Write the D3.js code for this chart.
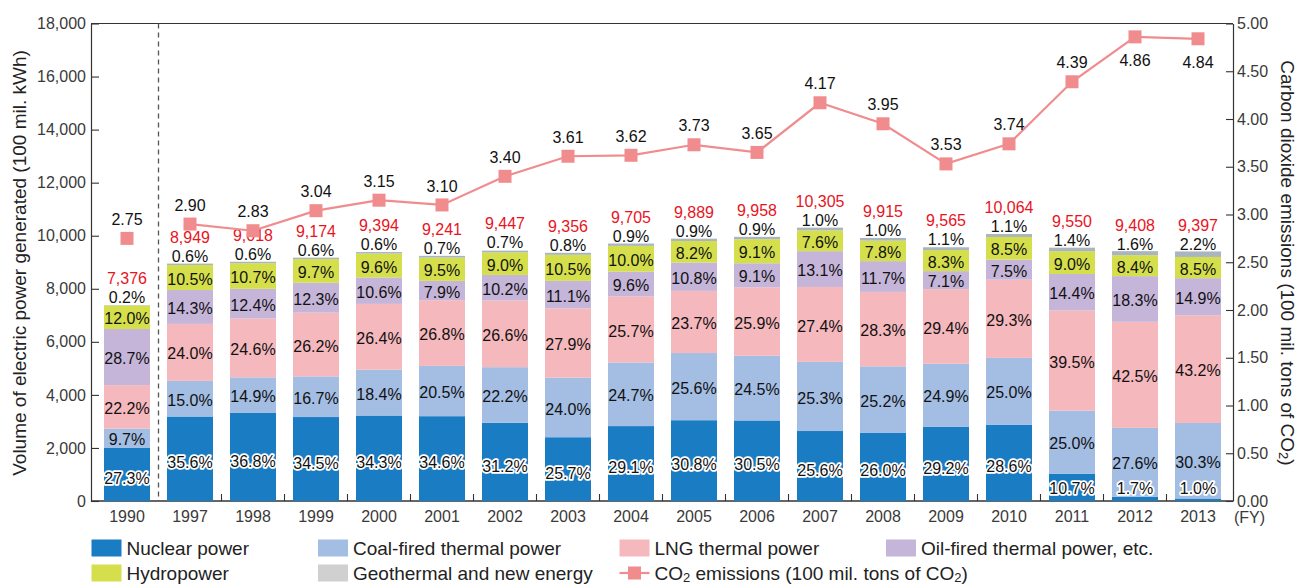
<!DOCTYPE html>
<html>
<head>
<meta charset="utf-8">
<script src="https://cdn.jsdelivr.net/npm/d3@7"></script>
<style>
  html, body { margin: 0; padding: 0; background: #fff; }
  svg { display: block; font-family: "Liberation Sans", Arial, Helvetica, sans-serif; }
</style>
</head>
<body>
<svg id="chart" width="1298" height="585"></svg>
<script>
// Fiscal years shown on the x axis
const years = ["1990", "1997", "1998", "1999", "2000", "2001", "2002", "2003", "2004",
               "2005", "2006", "2007", "2008", "2009", "2010", "2011", "2012", "2013"];

// Total electric power generated (100 mil. kWh)
const totals = [7376, 8949, 9018, 9174, 9394, 9241, 9447, 9356, 9705,
                9889, 9958, 10305, 9915, 9565, 10064, 9550, 9408, 9397];

// Share of each source in the total (%)
const nuclearPct    = [27.3, 35.6, 36.8, 34.5, 34.3, 34.6, 31.2, 25.7, 29.1, 30.8, 30.5, 25.6, 26.0, 29.2, 28.6, 10.7, 1.7, 1.0];
const coalPct       = [9.7, 15.0, 14.9, 16.7, 18.4, 20.5, 22.2, 24.0, 24.7, 25.6, 24.5, 25.3, 25.2, 24.9, 25.0, 25.0, 27.6, 30.3];
const lngPct        = [22.2, 24.0, 24.6, 26.2, 26.4, 26.8, 26.6, 27.9, 25.7, 23.7, 25.9, 27.4, 28.3, 29.4, 29.3, 39.5, 42.5, 43.2];
const oilPct        = [28.7, 14.3, 12.4, 12.3, 10.6, 7.9, 10.2, 11.1, 9.6, 10.8, 9.1, 13.1, 11.7, 7.1, 7.5, 14.4, 18.3, 14.9];
const hydroPct      = [12.0, 10.5, 10.7, 9.7, 9.6, 9.5, 9.0, 10.5, 10.0, 8.2, 9.1, 7.6, 7.8, 8.3, 8.5, 9.0, 8.4, 8.5];
const geothermalPct = [0.2, 0.6, 0.6, 0.6, 0.6, 0.7, 0.7, 0.8, 0.9, 0.9, 0.9, 1.0, 1.0, 1.1, 1.1, 1.4, 1.6, 2.2];

// CO2 emissions (100 mil. tons of CO2)
const co2 = [2.75, 2.90, 2.83, 3.04, 3.15, 3.10, 3.40, 3.61, 3.62,
             3.73, 3.65, 4.17, 3.95, 3.53, 3.74, 4.39, 4.86, 4.84];

// Axis ticks
const leftTicks  = [0, 2000, 4000, 6000, 8000, 10000, 12000, 14000, 16000, 18000];
const rightTicks = [0, 0.5, 1.0, 1.5, 2.0, 2.5, 3.0, 3.5, 4.0, 4.5, 5.0];

// Series names and colours
const sources = [
  { key: "nuclear",    label: "Nuclear power",                 pct: nuclearPct,    color: "#1a7dc4", legendColor: "#1a7dc4" },
  { key: "coal",       label: "Coal-fired thermal power",      pct: coalPct,       color: "#a3bde3", legendColor: "#a3bde3" },
  { key: "lng",        label: "LNG thermal power",             pct: lngPct,        color: "#f5b8bd", legendColor: "#f5b8bd" },
  { key: "oil",        label: "Oil-fired thermal power, etc.", pct: oilPct,        color: "#c5b5d9", legendColor: "#c5b5d9" },
  { key: "hydro",      label: "Hydropower",                    pct: hydroPct,      color: "#d5df4c", legendColor: "#d5df4c" },
  { key: "geothermal", label: "Geothermal and new energy",     pct: geothermalPct, color: "#a9b5c0", legendColor: "#d0d0d0" }
];
const co2Color = "#f08c8e";
const totalColor = "#e8141e";

const svg = d3.select("#chart");
const frame = { left: 91, right: 1233, top: 23.5, bottom: 501 };

const x = d3.scaleBand().domain(years).range([95.5, 1229.5]).padding(0);
const barW = x.bandwidth() * 0.73;
const barOff = (x.bandwidth() - barW) / 2;
const yL = d3.scaleLinear().domain([0, 18000]).range([frame.bottom, frame.top]);
const yR = d3.scaleLinear().domain([0, 5]).range([frame.bottom, frame.top]);

// Per-year generation by source
const rows = years.map((yr, i) => {
  const r = { year: yr, total: totals[i], i };
  sources.forEach(s => { r[s.key] = totals[i] * s.pct[i] / 100; });
  return r;
});
const stacked = d3.stack().keys(sources.map(s => s.key))(rows);

// ---- Frame and axes ----
const axisColor = "#333";
svg.append("line")
  .attr("x1", frame.left).attr("x2", frame.right)
  .attr("y1", frame.top).attr("y2", frame.top)
  .attr("stroke", axisColor).attr("stroke-width", 1.2);
svg.append("line")
  .attr("x1", frame.left).attr("x2", frame.right)
  .attr("y1", frame.bottom).attr("y2", frame.bottom)
  .attr("stroke", axisColor).attr("stroke-width", 1.5);

const leftAxis = svg.append("g")
  .attr("transform", `translate(${frame.left},0)`)
  .call(d3.axisLeft(yL).tickValues(leftTicks).tickSize(-8).tickSizeOuter(0)
        .tickPadding(5).tickFormat(d3.format(",")));
const rightAxis = svg.append("g")
  .attr("transform", `translate(${frame.right},0)`)
  .call(d3.axisRight(yR).tickValues(rightTicks).tickSize(-7).tickSizeOuter(0)
        .tickPadding(4).tickFormat(d3.format(".2f")));
[leftAxis, rightAxis].forEach(g => {
  g.select(".domain").attr("stroke", axisColor).attr("stroke-width", 1.2);
  g.selectAll(".tick line").attr("stroke", axisColor).attr("stroke-width", 1.1);
  g.selectAll(".tick text").attr("fill", "#3a3a3a").attr("font-size", 16)
    .attr("font-family", "Liberation Sans, Arial, sans-serif");
});

const bottomAxis = svg.append("g")
  .attr("transform", `translate(0,${frame.bottom})`)
  .call(d3.axisBottom(x).tickSize(0).tickPadding(10));
bottomAxis.select(".domain").remove();
bottomAxis.selectAll(".tick text").attr("fill", "#3a3a3a").attr("font-size", 16)
  .attr("font-family", "Liberation Sans, Arial, sans-serif");

svg.append("text")
  .attr("x", 1234).attr("y", 517).attr("dy", "0.35em")
  .attr("font-size", 16).attr("fill", "#3a3a3a").text("(FY)");

// Small ticks between bars, and a dashed break between 1990 and 1997
years.slice(1).forEach(yr => {
  const bx = x(yr);
  if (yr === "1997") {
    svg.append("line")
      .attr("x1", bx).attr("x2", bx)
      .attr("y1", frame.top).attr("y2", frame.bottom)
      .attr("stroke", "#555").attr("stroke-width", 1.3)
      .attr("stroke-dasharray", "5,4");
  } else {
    svg.append("line")
      .attr("x1", bx).attr("x2", bx)
      .attr("y1", frame.bottom).attr("y2", frame.bottom - 7)
      .attr("stroke", axisColor).attr("stroke-width", 1.1);
  }
});

// ---- Stacked bars ----
const barsG = svg.append("g");
stacked.forEach((layer, li) => {
  barsG.selectAll(null)
    .data(layer)
    .join("rect")
    .attr("x", d => x(d.data.year) + barOff)
    .attr("y", d => yL(d[1]))
    .attr("width", barW)
    .attr("height", d => yL(d[0]) - yL(d[1]))
    .attr("fill", sources[li].color);
});

// ---- Percentage labels inside the bars ----
const pctFmt = v => v.toFixed(1) + "%";
const labelsG = svg.append("g").attr("font-size", 16).attr("text-anchor", "middle");
stacked.forEach((layer, li) => {
  const s = sources[li];
  if (s.key === "geothermal") return;
  labelsG.selectAll(null)
    .data(layer)
    .join("text")
    .attr("x", d => x(d.data.year) + x.bandwidth() / 2)
    .attr("y", d => {
      const mid = yL((d[0] + d[1]) / 2);
      if (s.key === "nuclear") return Math.min(mid + 4, frame.bottom - 13);
      return mid + 1.5;
    })
    .attr("dy", "0.35em")
    .attr("fill", "#111")
    .attr("stroke", s.key === "nuclear" ? "#fff" : "none")
    .attr("stroke-width", s.key === "nuclear" ? 3.5 : 0)
    .attr("stroke-linejoin", "round")
    .attr("paint-order", "stroke")
    .text(d => pctFmt(s.pct[d.data.i]));
});

// Geothermal share above each bar, and the total in red above that
labelsG.selectAll(null)
  .data(rows)
  .join("text")
  .attr("x", d => x(d.year) + x.bandwidth() / 2)
  .attr("y", d => yL(d.total) - 7.5)
  .attr("dy", "0.35em")
  .attr("fill", "#111")
  .text(d => pctFmt(geothermalPct[d.i]));
labelsG.selectAll(null)
  .data(rows)
  .join("text")
  .attr("x", d => x(d.year) + x.bandwidth() / 2)
  .attr("y", d => yL(d.total) - 26.5)
  .attr("dy", "0.35em")
  .attr("fill", totalColor)
  .text(d => d3.format(",")(d.total));

// ---- CO2 emissions line (right axis) ----
const pts = years.map((yr, i) => ({ year: yr, v: co2[i], i }));
const line = d3.line()
  .defined(d => d.year !== "1990")
  .x(d => x(d.year) + x.bandwidth() / 2)
  .y(d => yR(d.v));
svg.append("path")
  .datum(pts)
  .attr("d", line)
  .attr("fill", "none")
  .attr("stroke", co2Color)
  .attr("stroke-width", 2.2);
const mk = 13;
svg.selectAll(null)
  .data(pts)
  .join("rect")
  .attr("x", d => x(d.year) + x.bandwidth() / 2 - mk / 2)
  .attr("y", d => yR(d.v) - mk / 2)
  .attr("width", mk).attr("height", mk)
  .attr("fill", co2Color);
svg.append("g").attr("font-size", 16).attr("text-anchor", "middle")
  .selectAll(null)
  .data(pts)
  .join("text")
  .attr("x", d => x(d.year) + x.bandwidth() / 2)
  .attr("y", d => {
    const cy = yR(d.v);
    return (cy - 19 < frame.top + 20) ? cy + 24 : cy - 19;
  })
  .attr("dy", "0.35em")
  .attr("fill", "#111")
  .text(d => d.v.toFixed(2));

// ---- Axis titles ----
svg.append("text")
  .attr("transform", "translate(19,263) rotate(-90)")
  .attr("text-anchor", "middle").attr("dy", "0.35em")
  .attr("font-size", 19).attr("fill", "#222")
  .text("Volume of electric power generated (100 mil. kWh)");
const rt = svg.append("text")
  .attr("transform", "translate(1288,263) rotate(90)")
  .attr("text-anchor", "middle").attr("dy", "0.35em")
  .attr("font-size", 19).attr("fill", "#222");
rt.append("tspan").text("Carbon dioxide emissions (100 mil. tons of CO");
rt.append("tspan").attr("font-size", 13).attr("dy", 2).text("2");
rt.append("tspan").attr("dy", -2).text(")");

// ---- Legend ----
const legCols = [91.5, 318, 619.5, 886];
const legRows = [548, 573];
const legendItems = sources.map(s => ({ type: "box", label: s.label, color: s.legendColor }))
  .concat([{ type: "line" }]);
const legG = svg.append("g").attr("font-size", 19).attr("fill", "#222");
legendItems.forEach((it, k) => {
  const lx = legCols[k % 4];
  const ly = legRows[Math.floor(k / 4)];
  if (it.type === "box") {
    legG.append("rect")
      .attr("x", lx).attr("y", ly - 8.5)
      .attr("width", 30).attr("height", 17)
      .attr("fill", it.color);
    legG.append("text")
      .attr("x", lx + 35).attr("y", ly).attr("dy", "0.35em")
      .text(it.label);
  } else {
    legG.append("line")
      .attr("x1", lx).attr("x2", lx + 30)
      .attr("y1", ly).attr("y2", ly)
      .attr("stroke", co2Color).attr("stroke-width", 2.2);
    legG.append("rect")
      .attr("x", lx + 15 - 6.5).attr("y", ly - 6.5)
      .attr("width", 13).attr("height", 13)
      .attr("fill", co2Color);
    const t = legG.append("text")
      .attr("x", lx + 35).attr("y", ly).attr("dy", "0.35em");
    t.append("tspan").text("CO");
    t.append("tspan").attr("font-size", 13).attr("dy", 2).text("2");
    t.append("tspan").attr("dy", -2).text(" emissions (100 mil. tons of CO");
    t.append("tspan").attr("font-size", 13).attr("dy", 2).text("2");
    t.append("tspan").attr("dy", -2).text(")");
  }
});
</script>
</body>
</html>
